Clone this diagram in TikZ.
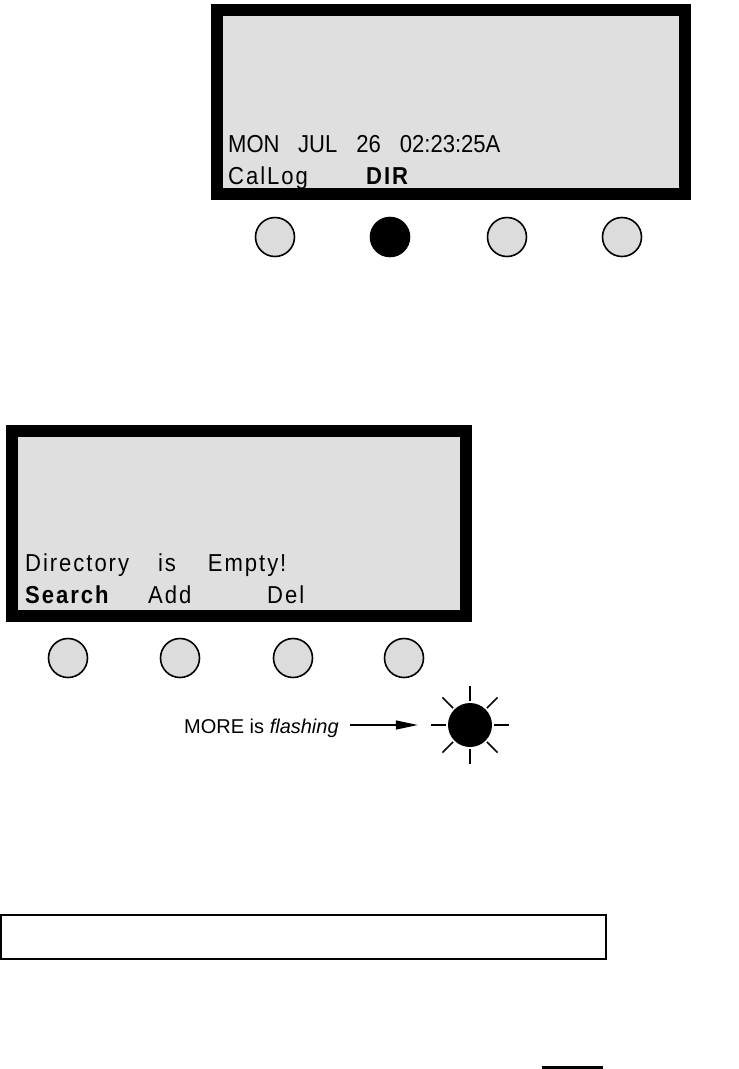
\documentclass[tikz,border=0pt]{standalone}
\usepackage{fontspec}
\setmainfont{Liberation Sans}
\newfontfamily\lcdfont{Liberation Sans}[LetterSpace=8,FakeStretch=0.9]
\newfontfamily\lcdplain{Liberation Sans}[FakeStretch=0.9]
\usepackage{tikz}
\usetikzlibrary{calc,arrows.meta,positioning}
\definecolor{lcdbg}{HTML}{DFDFDF}
\definecolor{keyc}{HTML}{DCDCDC}
\tikzset{
  lcd/.style={draw=black,line width=12pt,fill=lcdbg},
  key/.style={circle,draw=black,line width=1.6pt,fill=keyc,minimum size=39pt,inner sep=0pt},
  txt/.style={anchor=base west,inner sep=0pt,font=\lcdplain\fontsize{24.5}{26}\selectfont},
  soft/.style={anchor=base west,inner sep=0pt,font=\lcdfont\fontsize{24.5}{26}\selectfont},
  ray/.style={line width=1.5pt},
  ar/.style={-{Triangle[length=22pt,width=9pt]},line width=1.3pt}
}

\begin{document}
\begin{tikzpicture}[x=1pt,y=-1pt]
\useasboundingbox (0,0) rectangle (739,1069);
% first screen
\draw[lcd] (216.5,10) rectangle (685,194);
\node[txt] (date) at (228,152) {MON\hspace{18.5pt}JUL\hspace{19pt}26\hspace{19pt}02:23:25A};
\node[soft] (callog) at (228,184) {CalLog};
\node[soft] (dir) at (366,184) {\bfseries DIR};
\foreach \x/\n/\c in {275/1/keyc,390/2/black,507/3/keyc,622/4/keyc}
  \node[key,fill=\c] (k\n) at (\x,237) {};
% second screen
\draw[lcd] (12,430.5) rectangle (465.5,616);
\node[soft] (msg) at (25,571) {Directory\hspace{29pt}is\hspace{32pt}Empty!};
\node[soft] (search) at (25,603) {\bfseries Search};
\node[soft] (add) at (148,603) {Add};
\node[soft] (del) at (267,603) {Del};
\foreach \x/\n in {68/1,180/2,293/3,404/4}
  \node[key] (m\n) at (\x,658) {};
% flashing key
\node[circle,fill=black,minimum size=44pt,inner sep=0pt] (more) at (470,725) {};
\foreach \a in {0,45,...,315}
  \draw[ray] ($(more.center)+(\a:24)$) -- ($(more.center)+(\a:39)$);
\node[anchor=base west,inner sep=0pt,font=\fontsize{20}{22}\selectfont] (lbl) at (184,733) {MORE is \textit{flashing}};
\draw[ar] ($(lbl.east|-more)+(11,0)$) -- ($(more.west)+(-30,0)$);
% bottom
\draw[line width=1.5pt] (0.75,915) rectangle (606,959);
\draw[line width=2.5pt] (542,1067.5) -- (603,1067.5);
\end{tikzpicture}
\end{document}
